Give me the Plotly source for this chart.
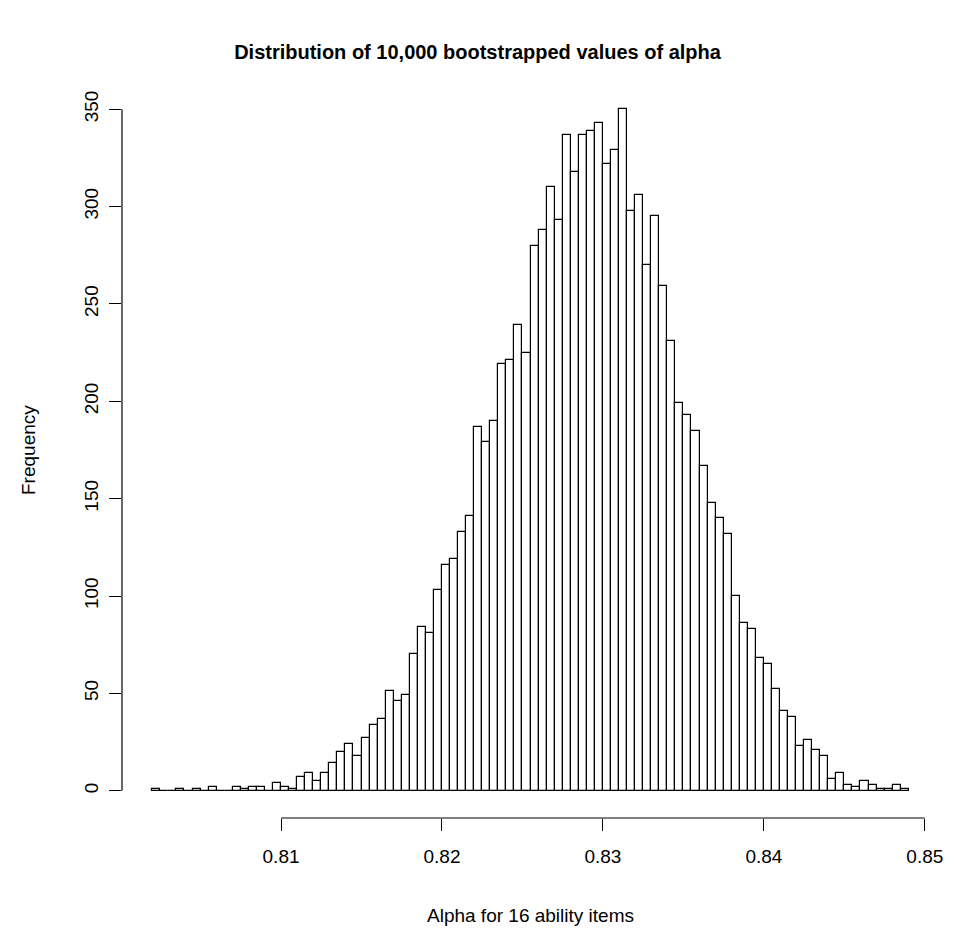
import plotly.graph_objects as go

# ---- data ----
bin_start = 0.802
bin_width = 0.0005
counts = [
    1, 0, 0, 1, 0, 1, 0, 2, 0, 0, 2, 1, 2, 2, 0, 4, 2, 1,
    7, 9, 5, 9, 14, 20, 24, 18, 27, 34, 37, 51, 46, 49, 70,
    84, 81, 103, 116, 119, 133, 141, 187, 179, 190, 219, 221, 239, 225, 280, 288,
    310, 293, 337, 318, 337, 339, 343, 322, 329, 350, 298, 306, 270, 295, 259, 231, 199, 193,
    185, 167, 148, 140, 132, 100, 86, 83, 68, 65, 52, 41, 38, 23, 26, 21, 18,
    6, 9, 3, 2, 5, 3, 1, 1, 3, 1,
]
x_ticks = [0.81, 0.82, 0.83, 0.84, 0.85]
x_tick_text = ["0.81", "0.82", "0.83", "0.84", "0.85"]
y_ticks = [0, 50, 100, 150, 200, 250, 300, 350]
y_tick_text = ["0", "50", "100", "150", "200", "250", "300", "350"]

title = "Distribution of 10,000 bootstrapped values of alpha"
x_label = "Alpha for 16 ability items"
y_label = "Frequency"

# ---- derived ----
n = len(counts)
edges = [bin_start + i * bin_width for i in range(n + 1)]
centers = [(edges[i] + edges[i + 1]) / 2 for i in range(n)]
x_lo, x_hi = edges[0], edges[-1]
x_pad = 0.04 * (x_hi - x_lo)
y_hi = max(counts)
y_pad = 0.04 * y_hi

FONT = "Liberation Sans, Arial, Helvetica, sans-serif"
AX = 19
LW = 1.2
TL = 12

fig = go.Figure()
fig.add_trace(go.Bar(
    x=centers, y=counts, width=bin_width,
    marker=dict(color="white", line=dict(color="black", width=LW)),
    hoverinfo="skip", showlegend=False,
))

fig.update_layout(
    width=955, height=930,
    margin=dict(l=122, r=12, t=82, b=112),
    plot_bgcolor="white", paper_bgcolor="white",
    font=dict(family=FONT, size=AX, color="black"),
    bargap=0,
    title=dict(text="<b>" + title + "</b>", x=0.5, xanchor="center", xref="container",
               y=1 - 52 / 930, yanchor="middle", yref="container",
               font=dict(family=FONT, size=20, color="black")),
    xaxis=dict(range=[x_lo - x_pad, x_hi + x_pad], tickvals=x_ticks, ticktext=x_tick_text,
               ticks="outside", ticklen=TL, tickwidth=LW, tickcolor="black",
               showline=False, showgrid=False, zeroline=False,
               ticklabelstandoff=9, tickfont=dict(size=AX)),
    yaxis=dict(range=[-y_pad, y_hi + y_pad], tickvals=y_ticks, ticktext=y_tick_text,
               ticks="outside", ticklen=TL, tickwidth=LW, tickcolor="black",
               showline=False, showgrid=False, zeroline=False, tickangle=-90,
               ticklabelstandoff=3, tickfont=dict(size=AX)),
    shapes=[
        dict(type="line", xref="x", yref="paper", x0=x_ticks[0], x1=x_ticks[-1], y0=0, y1=0,
             line=dict(color="black", width=LW)),
        dict(type="line", xref="paper", yref="y", x0=0, x1=0, y0=y_ticks[0], y1=y_ticks[-1],
             line=dict(color="black", width=LW)),
    ],
    annotations=[
        dict(text=x_label, xref="paper", yref="paper", x=0.5, y=0, xanchor="center",
             yanchor="middle", yshift=-97, showarrow=False, font=dict(size=AX)),
        dict(text=y_label, xref="paper", yref="paper", x=0, y=0.5, xanchor="center",
             yanchor="middle", xshift=-94, textangle=-90, showarrow=False, font=dict(size=AX)),
    ],
)

fig.write_html("out.html", config={"displayModeBar": False})
